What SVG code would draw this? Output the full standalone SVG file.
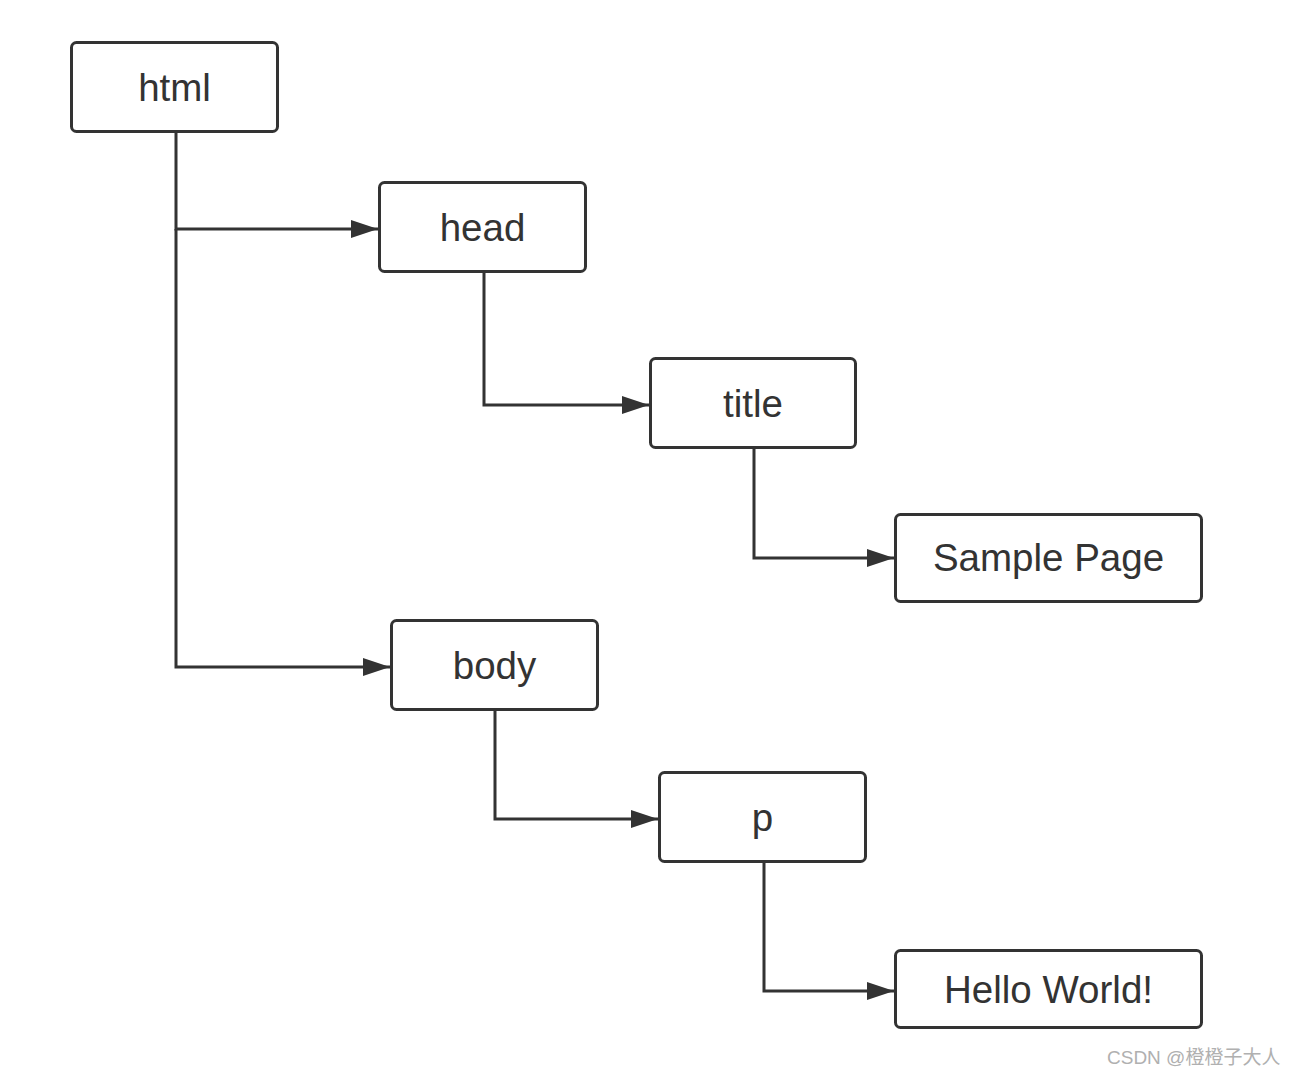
<svg xmlns="http://www.w3.org/2000/svg" width="1294" height="1078" viewBox="0 0 1294 1078">
  <style>
    .box { fill: #ffffff; stroke: #333333; stroke-width: 3; }
    .label { font-family: "Liberation Sans", Arial, sans-serif; font-size: 38.5px; fill: #333333; text-anchor: middle; dominant-baseline: central; }
    .wire { fill: none; stroke: #333333; stroke-width: 3; }
    .mark { font-family: "Liberation Sans", "Noto Sans CJK SC", sans-serif; font-size: 19px; fill: #b0b0b0; }
  </style>
  <defs>
    <marker id="arrow" markerUnits="userSpaceOnUse" markerWidth="28" markerHeight="20" refX="27" refY="9" orient="auto">
      <path d="M0,0 L27,9 L0,18 Z" fill="#333333"/>
    </marker>
  </defs>
  <rect width="1294" height="1078" fill="#ffffff"/>

  <!-- tree connectors -->
  <g id="connectors">
    <path class="wire" d="M176,131 V229 H378" marker-end="url(#arrow)"/>
    <path class="wire" d="M176,229 V667 H390" marker-end="url(#arrow)"/>
    <path class="wire" d="M484,271 V405 H649" marker-end="url(#arrow)"/>
    <path class="wire" d="M754,447 V558 H894" marker-end="url(#arrow)"/>
    <path class="wire" d="M495,710 V819 H658" marker-end="url(#arrow)"/>
    <path class="wire" d="M764,861 V991 H894" marker-end="url(#arrow)"/>
  </g>

  <g id="node-html">
    <rect class="box" x="71.5" y="42.5" width="206" height="89" rx="5"/>
    <text class="label" x="174.5" y="87">html</text>
  </g>
  <g id="node-head">
    <rect class="box" x="379.5" y="182.5" width="206" height="89" rx="5"/>
    <text class="label" x="482.5" y="227">head</text>
  </g>
  <g id="node-title">
    <rect class="box" x="650.5" y="358.5" width="205" height="89" rx="5"/>
    <text class="label" x="753" y="403">title</text>
  </g>
  <g id="node-sample">
    <rect class="box" x="895.5" y="514.5" width="306" height="87" rx="5"/>
    <text class="label" x="1048.5" y="557">Sample Page</text>
  </g>
  <g id="node-body">
    <rect class="box" x="391.5" y="620.5" width="206" height="89" rx="5"/>
    <text class="label" x="494.5" y="665">body</text>
  </g>
  <g id="node-p">
    <rect class="box" x="659.5" y="772.5" width="206" height="89" rx="5"/>
    <text class="label" x="762.5" y="817">p</text>
  </g>
  <g id="node-hello">
    <rect class="box" x="895.5" y="950.5" width="306" height="77" rx="5"/>
    <text class="label" x="1048.5" y="989">Hello World!</text>
  </g>

  <text class="mark" x="1107" y="1064">CSDN @橙橙子大人</text>
</svg>
